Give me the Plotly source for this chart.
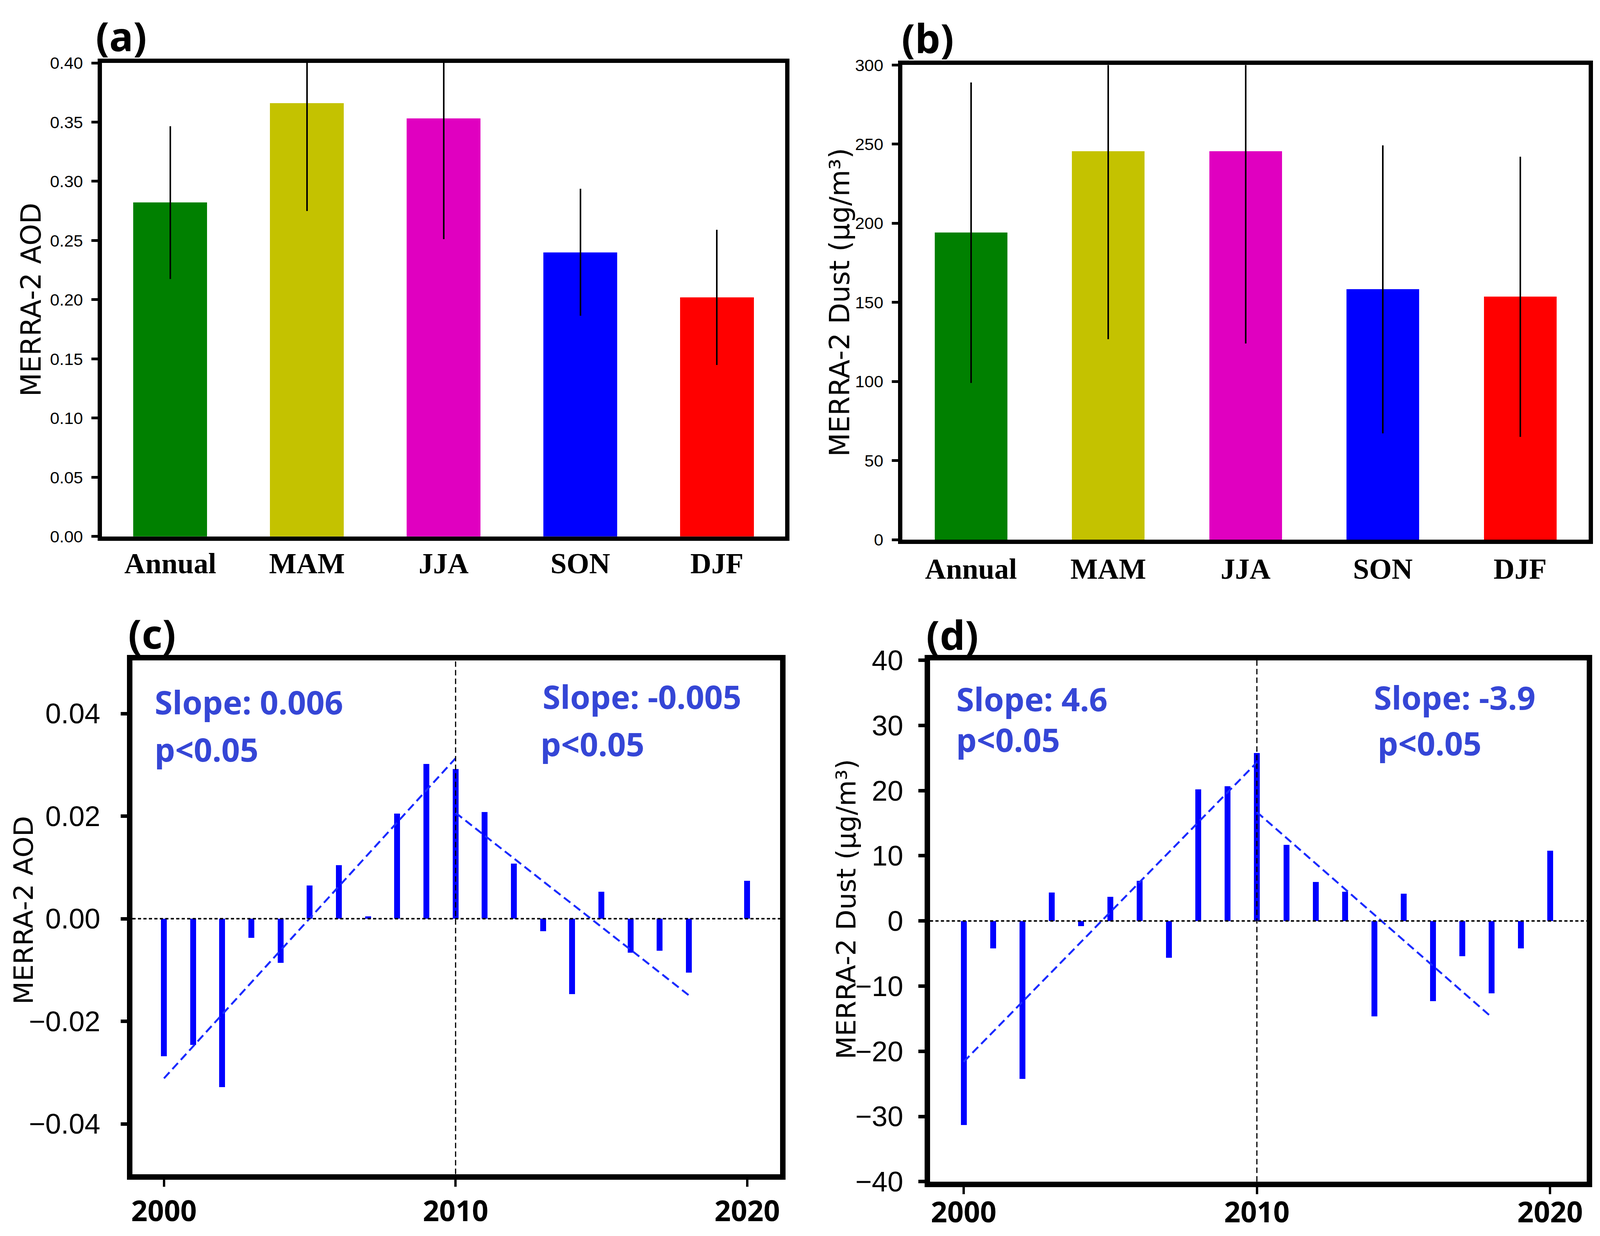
import numpy as np
import plotly.graph_objects as go

# ---------------- data ----------------
categories = ["Annual", "MAM", "JJA", "SON", "DJF"]
cat_colors = ["#008000", "#C4C200", "#E000C0", "#0000FF", "#FF0000"]

aod_mean = [0.282, 0.366, 0.353, 0.240, 0.202]
aod_std = [0.0645, 0.091, 0.102, 0.0537, 0.057]

dust_mean = [194.0, 245.5, 245.5, 158.3, 153.5]
dust_std = [95.0, 118.7, 121.4, 91.0, 88.5]

years = list(range(2000, 2021))
aod_anom = [-0.0268, -0.0246, -0.0328, -0.0037, -0.0086, 0.0065, 0.0105, 0.0005,
            0.0205, 0.0302, 0.0292, 0.0208, 0.0108, -0.0024, -0.0147, 0.0053,
            -0.0066, -0.0062, -0.0105, 0.0, 0.0074]
dust_anom = [-31.3, -4.2, -24.2, 4.4, -0.8, 3.7, 6.2, -5.6, 20.2, 20.7, 25.8,
             11.7, 6.0, 4.5, -14.6, 4.2, -12.3, -5.4, -11.1, -4.2, 10.8]

period1 = (2000, 2010)
period2 = (2010, 2018)

slope_text_c = ["Slope: 0.006", "Slope: -0.005"]
slope_text_d = ["Slope: 4.6", "Slope: -3.9"]
p_text = "p<0.05"

# ---------------- sizing ----------------
# The photographed page area is about 4096 px wide and 3163 px tall, so the
# figure fills that area (minus the 8 px page margin).
W = 4088
H = 3155
SX = 4096 / 4371      # horizontal measures
SF = 0.965            # font sizes


def fs(v):
    return v * SF


def hx(v):
    return v * SX


BLACK = "#000000"
TXT_BLUE = "#3546D6"
TREND_BLUE = "#1A2BFF"
SANS = "Liberation Sans, Arial, sans-serif"
SERIF = "Liberation Serif, Times New Roman, serif"
BOLD = "Noto Sans, Open Sans, sans-serif"
TITLE = "DejaVu Sans, Verdana, sans-serif"

fig = go.Figure()

# ---- panels a & b: seasonal bars ----
xpos = list(range(len(categories)))
fig.add_trace(go.Bar(x=xpos, y=aod_mean, width=0.54,
                     marker=dict(color=cat_colors, line=dict(width=0)),
                     error_y=dict(type="data", array=aod_std, visible=True,
                                  color=BLACK, thickness=4, width=0),
                     xaxis="x", yaxis="y", showlegend=False))
fig.add_trace(go.Bar(x=xpos, y=dust_mean, width=0.53,
                     marker=dict(color=cat_colors, line=dict(width=0)),
                     error_y=dict(type="data", array=dust_std, visible=True,
                                  color=BLACK, thickness=4, width=0),
                     xaxis="x2", yaxis="y2", showlegend=False))


# ---- panels c & d: anomalies ----
def trend(yrs, vals, p):
    xs = np.array([y for y in yrs if p[0] <= y <= p[1]], dtype=float)
    ys = np.array([v for y, v in zip(yrs, vals) if p[0] <= y <= p[1]], dtype=float)
    k, b = np.polyfit(xs, ys, 1)
    xe = np.array([xs.min(), xs.max()])
    return xe, k * xe + b


for vals, xa, ya in [(aod_anom, "x3", "y3"), (dust_anom, "x4", "y4")]:
    fig.add_trace(go.Bar(x=years, y=vals, width=0.2,
                         marker=dict(color="#0000FF", line=dict(width=0)),
                         xaxis=xa, yaxis=ya, showlegend=False))
    for p in (period1, period2):
        tx, ty = trend(years, vals, p)
        fig.add_trace(go.Scatter(x=tx, y=ty, mode="lines",
                                 line=dict(color=TREND_BLUE, width=5, dash="21px,11px"),
                                 xaxis=xa, yaxis=ya, showlegend=False))


# ---------------- axes ----------------
def cat_x(domain, anchor, standoff):
    return dict(domain=domain, anchor=anchor, range=[-0.5, 4.5], automargin=False,
                tickmode="array", tickvals=xpos, ticktext=categories,
                ticks="", showline=True, linewidth=11, linecolor=BLACK, mirror=True,
                showgrid=False, zeroline=False, ticklabelstandoff=standoff,
                tickfont=dict(family=SERIF, size=fs(77), color=BLACK, weight="bold"))


def val_y(domain, anchor, rng, dtick, fmt):
    return dict(domain=domain, anchor=anchor, range=rng, dtick=dtick, tick0=0,
                automargin=False, tickformat=fmt, ticks="outside", ticklen=hx(17),
                tickwidth=7, tickcolor=BLACK, showline=True, linewidth=11,
                linecolor=BLACK, mirror=True, showgrid=False, zeroline=False,
                ticklabelstandoff=int(round(hx(14))),
                tickfont=dict(family=SANS, size=fs(45), color=BLACK))


def yr_x(domain, anchor, rng, standoff):
    return dict(domain=domain, anchor=anchor, range=rng, automargin=False,
                tickmode="array", tickvals=[2000, 2010, 2020],
                ticks="outside", ticklen=18, tickwidth=6, tickcolor=BLACK,
                showline=True, linewidth=14, linecolor=BLACK, mirror=True,
                showgrid=False, zeroline=False, ticklabelstandoff=standoff,
                tickfont=dict(family=BOLD, size=fs(76), color=BLACK, weight="bold"))


def an_y(domain, anchor, rng, vals, fmt, standoff):
    return dict(domain=domain, anchor=anchor, range=rng, automargin=False,
                tickmode="array", tickvals=vals, tickformat=fmt,
                ticks="outside", ticklen=hx(17), tickwidth=9, tickcolor=BLACK,
                showline=True, linewidth=14, linecolor=BLACK, mirror=True,
                showgrid=False, zeroline=False, ticklabelstandoff=standoff,
                tickfont=dict(family=SANS, size=fs(75), color=BLACK))


fig.update_layout(
    width=W, height=H,
    margin=dict(l=0, r=0, t=0, b=0, autoexpand=False),
    paper_bgcolor="white", plot_bgcolor="white",
    showlegend=False, bargap=0,
    xaxis=cat_x([0.0619, 0.4898], "y", -6),
    yaxis=val_y([0.5674, 0.9515], "x", [0, 0.40], 0.05, ".2f"),
    xaxis2=cat_x([0.5631, 0.9930], "y2", 0),
    yaxis2=val_y([0.5648, 0.9498], "x2", [0, 300], 50, "d"),
    xaxis3=yr_x([0.0810, 0.4866], "y3", [1998.92, 2021.13], 0),
    yaxis3=an_y([0.0502, 0.4670], "x3", [-0.0498, 0.0504],
                [-0.04, -0.02, 0.0, 0.02, 0.04], ".2f", 38),
    xaxis4=yr_x([0.5804, 0.9917], "y4", [1998.85, 2021.25], -16),
    yaxis4=an_y([0.0441, 0.4670], "x4", [-40, 40],
                [-40, -30, -20, -10, 0, 10, 20, 30, 40], "d", 24),
)

# reference lines (zero line and 2010 divider)
shapes = []
for xa, ya in [("x3", "y3"), ("x4", "y4")]:
    shapes.append(dict(type="line", xref=f"{xa} domain", yref=ya, x0=0, x1=1, y0=0, y1=0,
                       line=dict(color=BLACK, width=4, dash="8px,6px"), layer="above"))
    shapes.append(dict(type="line", xref=xa, yref=f"{ya} domain", x0=2010, x1=2010, y0=0, y1=1,
                       line=dict(color=BLACK, width=3, dash="14px,8px"), layer="above"))
fig.update_layout(shapes=shapes)

# ---------------- annotations ----------------
ann = []
for lab, x, y in [("(a)", 0.074, 0.9736), ("(b)", 0.579, 0.9718),
                  ("(c)", 0.0931, 0.489), ("(d)", 0.5944, 0.4881)]:
    ann.append(dict(text=lab, x=x, y=y, xref="paper", yref="paper",
                    xanchor="center", yanchor="middle", showarrow=False,
                    font=dict(family=BOLD, size=fs(106), color=BLACK, weight="bold")))

for lab, x, y, sz in [("MERRA-2 AOD", 0.0176, 0.7594, 73),
                      ("MERRA-2 Dust (μg/m³)", 0.524, 0.7573, 73),
                      ("MERRA-2 AOD", 0.0128, 0.2643, 71),
                      ("MERRA-2 Dust (μg/m³)", 0.528, 0.2652, 71)]:
    ann.append(dict(text=lab, x=x, y=y, xref="paper", yref="paper", textangle=-90,
                    xanchor="center", yanchor="middle", showarrow=False,
                    font=dict(family=TITLE, size=fs(sz), color=BLACK)))

for lab, x, y in [(slope_text_c[0], 0.0944, 0.4335), (p_text, 0.0944, 0.3950),
                  (slope_text_c[1], 0.3374, 0.4379), (p_text, 0.3361, 0.3994),
                  (slope_text_d[0], 0.5963, 0.4360), (p_text, 0.5963, 0.4030),
                  (slope_text_d[1], 0.8578, 0.4374), (p_text, 0.8603, 0.4003)]:
    ann.append(dict(text=lab, x=x, y=y, xref="paper", yref="paper",
                    xanchor="left", yanchor="middle", showarrow=False,
                    font=dict(family=BOLD, size=fs(86), color=TXT_BLUE, weight="bold")))
fig.update_layout(annotations=ann)

fig.write_html("out.html")
